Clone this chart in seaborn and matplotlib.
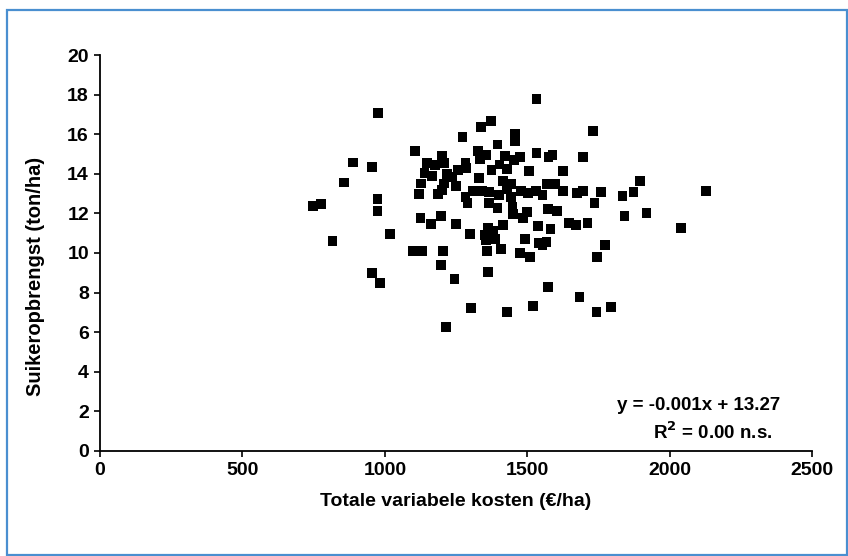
import matplotlib
matplotlib.use("Agg")
import matplotlib.pyplot as plt
import seaborn as sns
import pandas as pd
from matplotlib.patches import Rectangle

# Totale variabele kosten (euro/ha) and suikeropbrengst (ton/ha)
kosten = [
    748, 776, 815, 857, 888, 955, 976, 973, 973, 955, 983, 1018,
    1106, 1148, 1176, 1201, 1208, 1138, 1166, 1218, 1127, 1208, 1120, 1187,
    1201, 1124, 1162, 1197, 1099, 1131, 1204, 1197, 1215,
    1534, 1373, 1338, 1274, 1457, 1457, 1397, 1327, 1355, 1334, 1422, 1475,
    1454, 1534, 1576, 1590, 1696, 1731, 1282, 1285, 1257, 1404, 1429, 1376,
    1506, 1626, 1236, 1331, 1250, 1415, 1443, 1429, 1569, 1598, 1310, 1341,
    1366, 1478, 1503, 1531, 1555, 1626, 1675, 1696, 1759, 1282, 1289, 1401,
    1443, 1366, 1447, 1499, 1573, 1605, 1397, 1450, 1485, 1250, 1299, 1352,
    1362, 1380, 1415, 1355, 1390, 1359, 1408, 1492, 1538, 1583, 1647, 1671,
    1713, 1541, 1569, 1555, 1475, 1510, 1362, 1246, 1573, 1685, 1303, 1429,
    1520, 1742, 1794, 1745, 1773, 2040, 2128, 1920, 1896, 1872, 1836, 1843,
    1735,
]
opbrengst = [
    12.37, 12.47, 10.61, 13.58, 14.59, 14.34, 17.07, 12.73, 12.12, 8.99, 8.48, 10.96,
    15.15, 14.55, 14.44, 14.90, 14.55, 14.04, 13.89, 13.99, 13.53, 13.53, 12.98, 12.98,
    13.18, 11.77, 11.46, 11.87, 10.10, 10.10, 10.10, 9.39, 6.26,
    17.78, 16.67, 16.36, 15.86, 16.01, 15.66, 15.50, 15.15, 14.95, 14.75, 14.90, 14.85,
    14.70, 15.05, 14.85, 14.95, 14.85, 16.16, 14.55, 14.29, 14.19, 14.49, 14.24, 14.19,
    14.14, 14.14, 13.84, 13.79, 13.38, 13.64, 13.48, 13.23, 13.48, 13.48, 13.13, 13.13,
    13.08, 13.13, 13.03, 13.13, 12.93, 13.13, 13.03, 13.13, 13.08, 12.83, 12.52, 12.93,
    12.83, 12.52, 12.32, 12.07, 12.22, 12.12, 12.27, 11.97, 11.77, 11.46, 10.96, 10.91,
    11.26, 11.11, 11.41, 10.66, 10.71, 10.10, 10.20, 10.71, 11.36, 11.21, 11.51, 11.41,
    11.51, 10.50, 10.55, 10.40, 10.00, 9.80, 9.04, 8.69, 8.28, 7.78, 7.22, 7.02,
    7.32, 7.02, 7.27, 9.80, 10.40, 11.26, 13.13, 12.02, 13.64, 13.08, 12.88, 11.87,
    12.52,
]

x_ticks = [0, 500, 1000, 1500, 2000, 2500]
y_ticks = [0, 2, 4, 6, 8, 10, 12, 14, 16, 18, 20]

sns.set_style("ticks")
plt.rcParams['font.family'] = ['Liberation Sans', 'DejaVu Sans']
plt.rcParams['font.weight'] = 'bold'
plt.rcParams['text.color'] = 'black'

df = pd.DataFrame({'kosten': kosten, 'opbrengst': opbrengst})

fig = plt.figure(figsize=(8.48, 5.56), dpi=100)
ax = fig.add_axes([0.118, 0.189, 0.8395, 0.712])

sns.scatterplot(data=df, x='kosten', y='opbrengst', marker='s', color='black',
                edgecolor='none', s=44, ax=ax, legend=False)

ax.set_xlim(0, 2500)
ax.set_ylim(0, 20)
ax.set_xticks(x_ticks)
ax.set_yticks(y_ticks)
ax.tick_params(labelsize=14, length=4.5, width=1.2, colors='black')
for lbl in ax.get_xticklabels() + ax.get_yticklabels():
    lbl.set_fontweight('bold')
for side in ['left', 'bottom']:
    ax.spines[side].set_linewidth(1.3)
    ax.spines[side].set_color('black')
sns.despine(ax=ax)

ax.set_xlabel('Totale variabele kosten (€/ha)', fontsize=14, fontweight='bold', color='black')
ax.set_ylabel('Suikeropbrengst (ton/ha)', fontsize=14.5, fontweight='bold', color='black')
ax.xaxis.set_label_coords(0.50, -0.106)
ax.yaxis.set_label_coords(-0.077, 0.44)

# regression text
fig.text(780 / 848, 1 - 405 / 556, 'y = -0.001x + 13.27', ha='right', va='center',
         fontsize=13.5, fontweight='bold', color='black')
fig.text(773 / 848, 1 - 432 / 556, 'R$^\\mathbf{2}$ = 0.00 n.s.', ha='right', va='center',
         fontsize=13.5, fontweight='bold', color='black')

# blue frame around the figure
fig.patches.append(Rectangle((7 / 848, 1 / 556), 840 / 848, 545 / 556,
                             transform=fig.transFigure, fill=False,
                             edgecolor='#4a8fd0', linewidth=1.6))

fig.savefig('out.png', dpi=100)
